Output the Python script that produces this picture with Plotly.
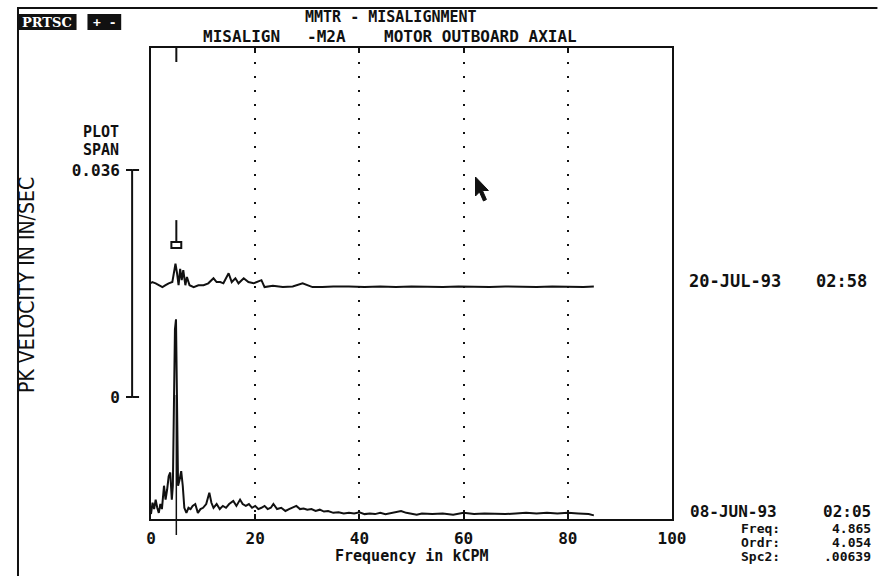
import plotly.graph_objects as go

# ---------------- data ----------------
X_TICKS = [0, 20, 40, 60, 80, 100]
X_TICK_LABELS = ["0", "20", "40", "60", "80", "100"]

SPAN_TICKS = [0, 0.036]
SPAN_TICK_LABELS = ["0", "0.036"]

CURSOR_FREQ = 4.865
UPPER_OFFSET = 0.0363  # waterfall offset of the 20-JUL-93 spectrum (in/sec)

# 08-JUN-93 spectrum (lower)
LOWER_FREQ = [
    0.0, 0.3, 0.6, 0.9, 1.2, 1.5, 1.8, 2.1, 2.5, 2.8,
    3.1, 3.4, 3.7, 4.0, 4.2, 4.4, 4.6, 4.8, 5.0, 5.2,
    5.5, 5.8, 6.1, 6.4, 6.8, 7.2, 7.6, 8.0, 8.5, 9.0,
    9.5, 10.0, 10.6, 11.2, 11.6, 12.0, 12.6, 13.2, 13.8, 14.4,
    15.0, 15.8, 16.4, 17.1, 17.6, 18.2, 18.8, 19.4, 20.0, 20.6,
    21.2, 21.8, 22.4, 23.0, 23.5, 24.2, 25.0, 25.8, 26.5, 27.2,
    27.9, 28.6, 29.3, 30.0, 30.8, 31.6, 32.4, 33.2, 34.0, 35.0,
    36, 37, 38, 39, 40, 41, 42, 43, 44, 45,
    46, 47, 48, 49, 50, 51, 52, 54, 56, 58,
    60, 62, 64, 66, 68, 70, 72, 74, 76, 78,
    80, 82, 84, 85,
]
LOWER_AMP = [
    0.0003, 0.0021, 0.0011, 0.0026, 0.0013, 0.0005, 0.0019, 0.0011, 0.0048, 0.0026,
    0.0042, 0.0063, 0.0069, 0.0026, 0.0048, 0.0161, 0.0296, 0.0312, 0.0193, 0.0048,
    0.0058, 0.0071, 0.0048, 0.0013, 0.0005, 0.0013, 0.0011, 0.0016, 0.0019, 0.0005,
    0.0011, 0.0013, 0.0019, 0.0037, 0.0021, 0.0013, 0.0019, 0.0011, 0.0016, 0.0013,
    0.0019, 0.0024, 0.0016, 0.0026, 0.0019, 0.0016, 0.0019, 0.0013, 0.0016, 0.0011,
    0.0013, 0.0016, 0.0011, 0.0013, 0.0019, 0.0011, 0.0013, 0.0008, 0.0011, 0.0013,
    0.0016, 0.0011, 0.0012, 0.0010, 0.0011, 0.0008, 0.0010, 0.0007, 0.0008, 0.0005,
    0.0006, 0.0004, 0.0005, 0.0004, 0.0006, 0.0003, 0.0004, 0.0003, 0.0005, 0.0003,
    0.0005, 0.0007, 0.0008, 0.0005, 0.0003, 0.0002, 0.0004, 0.0003, 0.0004, 0.0002,
    0.0005, 0.0003, 0.0004, 0.0003, 0.0003, 0.0004, 0.0005, 0.0004, 0.0005, 0.0004,
    0.0005, 0.0004, 0.0003, 0.0001,
]

# 20-JUL-93 spectrum (upper)
UPPER_FREQ = [
    0.0, 0.25, 0.9, 1.5, 2.2, 2.8, 3.4, 4.1, 4.4, 4.7,
    5.0, 5.3, 5.6, 5.9, 6.2, 6.6, 6.9, 7.4, 8.2, 9.1,
    10.1, 11.0, 12.0, 12.6, 13.3, 13.9, 14.9, 15.5, 16.2, 16.8,
    17.8, 18.7, 19.7, 21.2, 21.8, 23.4, 25.3, 27.2, 29.1, 31.0,
    32.9, 35, 38, 41, 44, 47, 50, 53, 56, 59,
    62, 65, 68, 71, 74, 77, 80, 83, 85,
]
UPPER_AMP = [
    0.0006, 0.0008, 0.0006, 0.0003, 0.0, 0.0003, 0.0006, 0.0008, 0.0027, 0.0037,
    0.0022, 0.0003, 0.0029, 0.0011, 0.0027, 0.0003, 0.0016, 0.0003, 0.0, 0.0003,
    0.0003, 0.0006, 0.0014, 0.0008, 0.0008, 0.0006, 0.0022, 0.0008, 0.0014, 0.0006,
    0.0014, 0.0008, 0.0006, 0.0011, 0.0, 0.0002, 0.0, 0.0001, 0.0006, 0.0,
    0.0, 0.0001, 0.0001, 0.0, 0.0001, 0.0, 0.0001, 0.0, 0.0, 0.0001,
    0.0, 0.0, 0.0001, 0.0, 0.0, 0.0001, 0.0, 0.0, 0.0001,
]

# ---------------- layout helpers ----------------
W, H = 879, 576
ML, MR, MT, MB = 12, 207, 48, 57
PW = W - ML - MR
PH = H - MT - MB
PLOT_LEFT_PX = 147


def px(x):
    return (x - ML) / PW


def py(y):
    return (H - MB - y) / PH


# y scale: 0.036 in/sec spans 227 px; lower baseline 3 px above the frame bottom
PX_PER_UNIT = 227 / 0.036
Y_MIN = -3 / PX_PER_UNIT
Y_MAX = (PH - 3) / PX_PER_UNIT
# plot span scale: 0 at y=397px, 0.036 at y=170px
SPAN_MIN = -(H - MB - 397) / PX_PER_UNIT
SPAN_MAX = 0.036 + (170 - MT) / PX_PER_UNIT

MONO = "DejaVu Sans Mono, Liberation Mono, monospace"
NARROW = "Liberation Sans Narrow, DejaVu Sans Condensed, Arial Narrow, sans-serif"
SERIF = "DejaVu Serif, Liberation Serif, serif"
BLACK = "#111111"

fig = go.Figure()

fig.add_trace(go.Scatter(
    x=LOWER_FREQ, y=LOWER_AMP, mode="lines",
    line=dict(color=BLACK, width=2), showlegend=False, hoverinfo="skip"))
fig.add_trace(go.Scatter(
    x=UPPER_FREQ, y=[a + UPPER_OFFSET for a in UPPER_AMP], mode="lines",
    line=dict(color=BLACK, width=2), showlegend=False, hoverinfo="skip"))
fig.add_trace(go.Scatter(x=[None], y=[None], yaxis="y2", showlegend=False,
                         hoverinfo="skip"))

tick_font = dict(family=MONO, size=16, color=BLACK, weight="bold")

fig.update_layout(
    width=W, height=H,
    margin=dict(l=ML, r=MR, t=MT, b=MB),
    paper_bgcolor="white", plot_bgcolor="white",
    xaxis=dict(
        domain=[px(PLOT_LEFT_PX), 1], range=[0, 100],
        tickvals=X_TICKS, ticktext=X_TICK_LABELS, tickfont=tick_font,
        showline=True, linecolor=BLACK, linewidth=2, mirror="ticks",
        ticks="inside", ticklen=5, tickwidth=1.5, tickcolor=BLACK,
        showgrid=True, gridcolor=BLACK, gridwidth=2, griddash="2px,12px",
        zeroline=False, ticklabelstandoff=4,
    ),
    yaxis=dict(
        domain=[0, 1], range=[Y_MIN, Y_MAX],
        showticklabels=False, ticks="", showgrid=False, zeroline=False,
        showline=True, linecolor=BLACK, linewidth=2, mirror=True,
    ),
    yaxis2=dict(
        overlaying="y", anchor="free", position=px(128), side="left",
        range=[SPAN_MIN, SPAN_MAX], tickvals=SPAN_TICKS, ticktext=SPAN_TICK_LABELS,
        tickfont=tick_font, ticks="outside", ticklen=6, tickwidth=2,
        tickcolor=BLACK, showline=False, showgrid=False, zeroline=False,
        ticklabelstandoff=3,
    ),
)

shapes = []
# plot span bar
shapes.append(dict(type="line", xref="paper", yref="y2", x0=px(128), x1=px(128),
                   y0=SPAN_TICKS[0], y1=SPAN_TICKS[1], line=dict(color=BLACK, width=2)))
for v in SPAN_TICKS:
    shapes.append(dict(type="line", xref="paper", yref="y2", x0=px(128), x1=px(135),
                       y0=v, y1=v, line=dict(color=BLACK, width=2)))
# cursor marks
shapes.append(dict(type="line", xref="x", yref="paper", x0=CURSOR_FREQ, x1=CURSOR_FREQ,
                   y0=1, y1=py(62), line=dict(color=BLACK, width=2)))
shapes.append(dict(type="line", xref="x", yref="y", x0=CURSOR_FREQ, x1=CURSOR_FREQ,
                   y0=UPPER_OFFSET + 45 / PX_PER_UNIT, y1=UPPER_OFFSET + 67 / PX_PER_UNIT,
                   line=dict(color=BLACK, width=2)))
shapes.append(dict(type="rect", xref="x", yref="y",
                   x0=CURSOR_FREQ - 0.95, x1=CURSOR_FREQ + 0.95,
                   y0=UPPER_OFFSET + 39 / PX_PER_UNIT, y1=UPPER_OFFSET + 45 / PX_PER_UNIT,
                   fillcolor="white", line=dict(color=BLACK, width=2)))
shapes.append(dict(type="line", xref="x", yref="paper", x0=CURSOR_FREQ, x1=CURSOR_FREQ,
                   y0=py(395), y1=py(535), line=dict(color=BLACK, width=1.5)))
# screen frame
shapes.append(dict(type="line", xref="paper", yref="paper", x0=px(12), x1=px(879),
                   y0=py(8), y1=py(8), line=dict(color=BLACK, width=2)))
shapes.append(dict(type="line", xref="paper", yref="paper", x0=px(13), x1=px(13),
                   y0=py(8), y1=py(576), line=dict(color=BLACK, width=2)))
# PRTSC boxes
shapes.append(dict(type="rect", xref="paper", yref="paper", x0=px(12), x1=px(72),
                   y0=py(30), y1=py(14), fillcolor=BLACK, line=dict(width=0)))
shapes.append(dict(type="rect", xref="paper", yref="paper", x0=px(83), x1=px(117),
                   y0=py(30), y1=py(14), fillcolor=BLACK, line=dict(width=0)))
# mouse pointer
pts = [(474, 177), (474, 196), (478, 192), (482, 201), (485, 199.5), (481, 190.5), (487, 190.5)]
path = "M " + " L ".join(f"{px(a):.5f},{py(b):.5f}" for a, b in pts) + " Z"
shapes.append(dict(type="path", xref="paper", yref="paper", path=path,
                   fillcolor=BLACK, line=dict(color=BLACK, width=1)))
fig.update_layout(shapes=shapes)


def mono(size):
    return dict(family=MONO, size=size, color=BLACK, weight="bold")


def ann(text, x, y, xanchor="left", font=None, **kw):
    fig.add_annotation(text=text, x=px(x), y=py(y), xref="paper", yref="paper",
                       xanchor=xanchor, yanchor="middle", showarrow=False,
                       font=font or mono(16), **kw)


ann("PRTSC", 42, 22, xanchor="center",
    font=dict(family=SERIF, size=13, color="white", weight="bold"))
ann("+ -", 100, 22, xanchor="center",
    font=dict(family=MONO, size=13, color="white", weight="bold"))
ann("MMTR - MISALIGNMENT", 300, 17, font=mono(15))
ann("MISALIGN", 197, 36)
ann("-M2A", 302, 36)
ann("MOTOR OUTBOARD AXIAL", 380, 36)
ann("PLOT", 97, 132, xanchor="center", font=mono(15))
ann("SPAN", 97, 150, xanchor="center", font=mono(15))
ann("PK VELOCITY IN IN/SEC", 22, 285, xanchor="center",
    font=dict(family=NARROW, size=21, color=BLACK), textangle=-90)
ann("Frequency in kCPM", 410, 556, xanchor="center", font=mono(15))
ann("20-JUL-93", 687, 281, font=mono(17))
ann("02:58", 871, 281, xanchor="right", font=mono(17))
ann("08-JUN-93", 688, 511, font=mono(16))
ann("02:05", 875, 511, xanchor="right", font=mono(16))
ann("Freq:", 783, 528, xanchor="right", font=mono(13))
ann("4.865", 875, 528, xanchor="right", font=mono(13))
ann("Ordr:", 783, 542, xanchor="right", font=mono(13))
ann("4.054", 875, 542, xanchor="right", font=mono(13))
ann("Spc2:", 783, 556, xanchor="right", font=mono(13))
ann(".00639", 875, 556, xanchor="right", font=mono(13))

fig.write_html("out.html", config={"displayModeBar": False},
               post_script="document.body.style.margin='0px';")
